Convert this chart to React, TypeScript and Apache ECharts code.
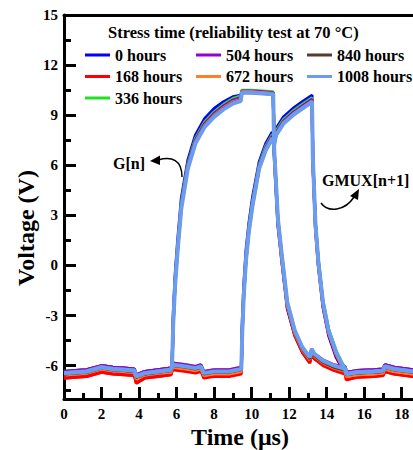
import React, { useEffect, useRef } from 'react';
import * as echarts from 'echarts';

const HOURS = ['0 hours', '168 hours', '336 hours', '504 hours', '672 hours', '840 hours', '1008 hours'];
const COLORS = ['#0000ff', '#ff0000', '#22e022', '#9a00cc', '#ff7f27', '#5a3a2e', '#6a9cf0'];

const X_LABELS = [0, 2, 4, 6, 8, 10, 12, 14, 16, 18];
const X_MINOR = [1, 3, 5, 7, 9, 11, 13, 15, 17];
const Y_LABELS = [-6, -3, 0, 3, 6, 9, 12, 15];
const Y_MINOR = [-7.5, -4.5, -1.5, 1.5, 4.5, 7.5, 10.5, 13.5];

// G[n] waveform: time points (µs)
const T_G = [0, 0.6, 1.2, 2.0, 2.6, 3.2, 3.75, 3.85, 4.3, 5.0, 5.7, 5.76, 5.82, 5.92, 6.05, 6.25, 6.6, 7.0, 7.5, 8.0, 8.5, 9.0, 9.42, 9.48, 10.0, 10.6, 11.15, 11.2, 11.4, 11.6, 11.9, 12.3, 12.7, 13.1, 13.2, 13.35, 13.8, 14.4, 14.98, 15.05, 15.6, 16.5, 17.0, 17.1, 17.6, 18.6];
const G_0 = [-6.55, -6.5, -6.45, -6.2, -6.3, -6.35, -6.4, -6.75, -6.55, -6.45, -6.35, -6.0, -3.0, -0.6, 1.4, 4.0, 6.3, 7.8, 8.8, 9.4, 9.8, 10.1, 10.2, 10.45, 10.45, 10.4, 10.35, 6.6, 2.4, 0.3, -2.6, -4.2, -5.2, -5.8, -5.3, -5.6, -5.9, -6.2, -6.35, -6.6, -6.5, -6.45, -6.4, -6.15, -6.3, -6.45];
const G_168 = [-6.75, -6.7, -6.65, -6.4, -6.5, -6.55, -6.6, -7.05, -6.75, -6.65, -6.55, -6.3, -3.4, -1.0, 1.0, 3.6, 6.0, 7.45, 8.45, 9.05, 9.5, 9.85, 10.0, 10.4, 10.4, 10.35, 10.3, 6.8, 2.5, 0.4, -2.5, -4.2, -5.2, -5.85, -5.3, -5.6, -6.0, -6.3, -6.5, -6.85, -6.7, -6.65, -6.6, -6.35, -6.5, -6.65];
const G_336 = [-6.35, -6.3, -6.25, -6.0, -6.1, -6.15, -6.2, -6.55, -6.35, -6.25, -6.15, -5.9, -3.3, -0.9, 1.1, 3.75, 6.1, 7.6, 8.6, 9.2, 9.65, 10.0, 10.15, 10.5, 10.5, 10.45, 10.4, 6.9, 2.7, 0.6, -2.3, -4.0, -5.0, -5.6, -5.1, -5.4, -5.75, -6.05, -6.2, -6.4, -6.3, -6.25, -6.2, -5.95, -6.1, -6.25];
const G_504 = [-6.35, -6.3, -6.25, -6.0, -6.1, -6.15, -6.2, -6.55, -6.35, -6.25, -6.15, -5.9, -3.4, -1.0, 1.0, 3.6, 6.0, 7.5, 8.5, 9.1, 9.55, 9.9, 10.05, 10.45, 10.45, 10.4, 10.35, 7.0, 2.8, 0.7, -2.2, -3.9, -4.9, -5.5, -5.0, -5.3, -5.65, -5.95, -6.1, -6.4, -6.3, -6.25, -6.2, -5.95, -6.1, -6.25];
const G_672 = [-6.55, -6.5, -6.45, -6.2, -6.3, -6.35, -6.4, -6.8, -6.55, -6.45, -6.4, -6.1, -3.5, -1.1, 0.9, 3.5, 5.9, 7.4, 8.4, 9.0, 9.45, 9.8, 9.95, 10.4, 10.4, 10.35, 10.3, 6.9, 2.7, 0.5, -2.4, -4.05, -5.05, -5.65, -5.15, -5.45, -5.85, -6.15, -6.35, -6.65, -6.55, -6.5, -6.45, -6.2, -6.35, -6.5];
const G_840 = [-6.5, -6.45, -6.4, -6.15, -6.25, -6.3, -6.35, -6.7, -6.5, -6.4, -6.3, -6.05, -3.5, -1.2, 0.85, 3.45, 5.85, 7.35, 8.35, 8.95, 9.4, 9.75, 9.9, 10.35, 10.35, 10.3, 10.25, 6.9, 2.7, 0.6, -2.3, -4.0, -5.0, -5.6, -5.1, -5.4, -5.8, -6.1, -6.3, -6.55, -6.45, -6.4, -6.35, -6.1, -6.25, -6.4];
const G_1008 = [-6.45, -6.4, -6.35, -6.1, -6.2, -6.25, -6.3, -6.65, -6.45, -6.35, -6.25, -6.0, -3.5, -1.2, 0.8, 3.4, 5.8, 7.3, 8.3, 8.9, 9.35, 9.7, 9.85, 10.35, 10.35, 10.3, 10.25, 7.0, 2.8, 0.7, -2.2, -3.9, -4.9, -5.5, -5.0, -5.3, -5.7, -6.0, -6.2, -6.5, -6.4, -6.35, -6.3, -6.05, -6.2, -6.35];

// GMUX[n+1] waveform: time points (µs)
const T_M = [0, 0.6, 1.2, 2.0, 2.6, 3.2, 3.75, 3.85, 4.3, 5.0, 5.7, 5.78, 6.5, 7.0, 7.3, 7.45, 8.0, 8.8, 9.45, 9.5, 9.58, 9.7, 9.85, 10.05, 10.4, 10.75, 11.1, 11.2, 11.3, 11.7, 12.2, 12.7, 13.22, 13.26, 13.4, 13.55, 13.8, 14.1, 14.5, 14.85, 15.0, 15.05, 15.6, 16.5, 17.0, 17.1, 17.6, 18.6];
const M_0 = [-6.55, -6.5, -6.45, -6.2, -6.3, -6.35, -6.4, -6.75, -6.55, -6.45, -6.35, -6.05, -6.15, -6.25, -6.15, -6.55, -6.45, -6.45, -6.3, -3.4, -1.2, 0.9, 2.5, 4.1, 6.2, 7.3, 8.0, 7.6, 8.2, 8.9, 9.4, 9.8, 10.2, 6.2, 2.2, 0.0, -2.5, -4.2, -5.5, -6.2, -6.35, -6.6, -6.5, -6.45, -6.4, -6.15, -6.3, -6.45];
const M_168 = [-6.75, -6.7, -6.65, -6.4, -6.5, -6.55, -6.6, -7.05, -6.75, -6.65, -6.55, -6.25, -6.35, -6.45, -6.35, -6.75, -6.65, -6.65, -6.5, -3.9, -1.7, 0.4, 2.1, 3.7, 5.9, 7.0, 7.7, 7.3, 7.9, 8.6, 9.1, 9.5, 9.9, 6.3, 2.3, 0.1, -2.4, -4.1, -5.4, -6.2, -6.45, -6.85, -6.7, -6.65, -6.6, -6.35, -6.5, -6.65];
const M_336 = [-6.35, -6.3, -6.25, -6.0, -6.1, -6.15, -6.2, -6.55, -6.35, -6.25, -6.15, -5.85, -5.95, -6.05, -5.95, -6.35, -6.25, -6.25, -6.1, -3.7, -1.5, 0.6, 2.3, 3.85, 6.05, 7.15, 7.85, 7.45, 8.05, 8.75, 9.25, 9.65, 10.05, 6.6, 2.6, 0.4, -2.1, -3.8, -5.1, -5.9, -6.1, -6.4, -6.3, -6.25, -6.2, -5.95, -6.1, -6.25];
const M_504 = [-6.35, -6.3, -6.25, -6.0, -6.1, -6.15, -6.2, -6.55, -6.35, -6.25, -6.15, -5.85, -5.95, -6.05, -5.95, -6.35, -6.25, -6.25, -6.1, -3.8, -1.6, 0.5, 2.2, 3.75, 5.95, 7.05, 7.75, 7.35, 7.95, 8.65, 9.15, 9.55, 9.95, 6.5, 2.5, 0.3, -2.2, -3.9, -5.2, -6.0, -6.1, -6.4, -6.3, -6.25, -6.2, -5.95, -6.1, -6.25];
const M_672 = [-6.55, -6.5, -6.45, -6.2, -6.3, -6.35, -6.4, -6.8, -6.55, -6.45, -6.4, -6.1, -6.2, -6.3, -6.2, -6.6, -6.5, -6.5, -6.35, -4.0, -1.8, 0.35, 2.05, 3.65, 5.85, 6.95, 7.65, 7.25, 7.85, 8.55, 9.05, 9.45, 9.85, 6.4, 2.4, 0.2, -2.3, -4.0, -5.3, -6.1, -6.35, -6.65, -6.55, -6.5, -6.45, -6.2, -6.35, -6.5];
const M_840 = [-6.5, -6.45, -6.4, -6.15, -6.25, -6.3, -6.35, -6.7, -6.5, -6.4, -6.3, -6.0, -6.1, -6.2, -6.1, -6.5, -6.4, -6.4, -6.25, -4.0, -1.8, 0.3, 2.0, 3.6, 5.8, 6.9, 7.6, 7.2, 7.8, 8.5, 9.0, 9.4, 9.8, 6.5, 2.5, 0.3, -2.25, -3.95, -5.25, -6.05, -6.25, -6.55, -6.45, -6.4, -6.35, -6.1, -6.25, -6.4];
const M_1008 = [-6.45, -6.4, -6.35, -6.1, -6.2, -6.25, -6.3, -6.65, -6.45, -6.35, -6.25, -5.95, -6.05, -6.15, -6.05, -6.45, -6.35, -6.35, -6.2, -4.0, -1.8, 0.3, 2.0, 3.6, 5.8, 6.9, 7.6, 7.2, 7.8, 8.5, 9.0, 9.4, 9.8, 6.5, 2.5, 0.3, -2.2, -3.9, -5.2, -6.0, -6.2, -6.5, -6.4, -6.35, -6.3, -6.05, -6.2, -6.35];

const G_SETS = [G_0, G_168, G_336, G_504, G_672, G_840, G_1008];
const M_SETS = [M_0, M_168, M_336, M_504, M_672, M_840, M_1008];

const FONT = 'Liberation Serif';

export default function App() {
  const ref = useRef<HTMLDivElement>(null);
  useEffect(() => {
    if (!ref.current) return;
    const chart = echarts.init(ref.current, null, { renderer: 'svg' });

    const series: any[] = [];
    HOURS.forEach((name, i) => {
      const common = {
        name,
        type: 'line',
        xAxisIndex: 0,
        yAxisIndex: 0,
        showSymbol: false,
        symbol: 'none',
        silent: true,
        emphasis: { disabled: true },
        itemStyle: { color: COLORS[i] },
        lineStyle: { color: COLORS[i], width: i === 6 ? 4 : 3 },
      };
      series.push({ ...common, data: T_G.map((t, k) => [t, G_SETS[i][k]]) });
      series.push({ ...common, data: T_M.map((t, k) => [t, M_SETS[i][k]]) });
    });

    const labelStyle = { fontFamily: FONT, fontWeight: 'bold', fontSize: 15, color: '#000' };
    const legendCommon = {
      orient: 'vertical',
      icon: 'rect',
      itemWidth: 25,
      itemHeight: 3,
      itemGap: 5.5,
      padding: 0,
      top: 47,
      selectedMode: false,
      textStyle: { fontFamily: FONT, fontWeight: 'bold', fontSize: 16, color: '#000', lineHeight: 16 },
    };

    const option: any = {
      animation: false,
      backgroundColor: '#fff',
      grid: { left: 64, right: 0, top: 15, bottom: 51, outerBoundsMode: 'none' },
      title: {
        text: 'Stress time (reliability test at 70 °C)',
        left: 108,
        top: 24,
        padding: 0,
        textStyle: { fontFamily: FONT, fontWeight: 'bold', fontSize: 16.5, color: '#000' },
      },
      legend: [
        { ...legendCommon, left: 85, data: HOURS.slice(0, 3) },
        { ...legendCommon, left: 196, data: HOURS.slice(3, 5) },
        { ...legendCommon, left: 307, data: HOURS.slice(5) },
      ],
      xAxis: [
        {
          type: 'value', position: 'bottom', min: 0, max: 18.6,
          axisLine: { show: true, onZero: false, lineStyle: { color: '#000', width: 3 } },
          axisTick: { show: true, inside: true, length: 12, customValues: X_LABELS, lineStyle: { color: '#000', width: 3 } },
          axisLabel: { show: true, margin: 7, customValues: X_LABELS, ...labelStyle },
          splitLine: { show: false },
        },
        {
          type: 'value', position: 'bottom', min: 0, max: 18.6,
          axisLine: { show: false, onZero: false },
          axisTick: { show: true, inside: true, length: 6, customValues: X_MINOR, lineStyle: { color: '#000', width: 3 } },
          axisLabel: { show: false },
          splitLine: { show: false },
        },
        {
          type: 'value', position: 'top', min: 0, max: 18.6,
          axisLine: { show: true, onZero: false, lineStyle: { color: '#000', width: 3 } },
          axisTick: { show: false },
          axisLabel: { show: false },
          splitLine: { show: false },
        },
      ],
      yAxis: [
        {
          type: 'value', position: 'left', min: -8, max: 15,
          axisLine: { show: true, onZero: false, lineStyle: { color: '#000', width: 3 } },
          axisTick: { show: true, inside: true, length: 12, customValues: Y_LABELS, lineStyle: { color: '#000', width: 3 } },
          axisLabel: { show: true, margin: 6, customValues: Y_LABELS, ...labelStyle },
          splitLine: { show: false },
        },
        {
          type: 'value', position: 'left', min: -8, max: 15,
          axisLine: { show: false, onZero: false },
          axisTick: { show: true, inside: true, length: 7, customValues: Y_MINOR, lineStyle: { color: '#000', width: 3 } },
          axisLabel: { show: false },
          splitLine: { show: false },
        },
      ],
      graphic: [
        {
          type: 'text', x: 240, y: 437,
          style: { text: 'Time (μs)', fontFamily: FONT, fontWeight: 'bold', fontSize: 24, fill: '#000', align: 'center', verticalAlign: 'middle' },
        },
        {
          type: 'text', x: 26, y: 228, rotation: Math.PI / 2,
          style: { text: 'Voltage (V)', fontFamily: FONT, fontWeight: 'bold', fontSize: 24, fill: '#000', align: 'center', verticalAlign: 'middle' },
        },
        {
          type: 'text', x: 113, y: 163,
          style: { text: 'G[n]', fontFamily: FONT, fontWeight: 'bold', fontSize: 16, fill: '#000', align: 'left', verticalAlign: 'middle' },
        },
        {
          type: 'text', x: 322, y: 180,
          style: { text: 'GMUX[n+1]', fontFamily: FONT, fontWeight: 'bold', fontSize: 16, fill: '#000', align: 'left', verticalAlign: 'middle' },
        },
        {
          type: 'bezierCurve',
          shape: { x1: 182, y1: 177, cpx1: 182, cpy1: 160, cpx2: 172, cpy2: 156, x2: 158, y2: 160 },
          style: { stroke: '#000', lineWidth: 1.5, fill: 'none' },
        },
        {
          type: 'polygon',
          shape: { points: [[150, 161], [160, 155.5], [160, 165]] },
          style: { fill: '#000' },
        },
        {
          type: 'bezierCurve',
          shape: { x1: 321, y1: 203, cpx1: 328, cpy1: 213, cpx2: 345, cpy2: 211, x2: 354, y2: 197 },
          style: { stroke: '#000', lineWidth: 1.5, fill: 'none' },
        },
        {
          type: 'polygon',
          shape: { points: [[359, 189], [350, 196], [358, 200]] },
          style: { fill: '#000' },
        },
      ],
      series,
    };

    chart.setOption(option);
    return () => chart.dispose();
  }, []);

  return <div ref={ref} style={{ position: 'absolute', left: 0, top: 0, width: 413, height: 450 }} />;
}
